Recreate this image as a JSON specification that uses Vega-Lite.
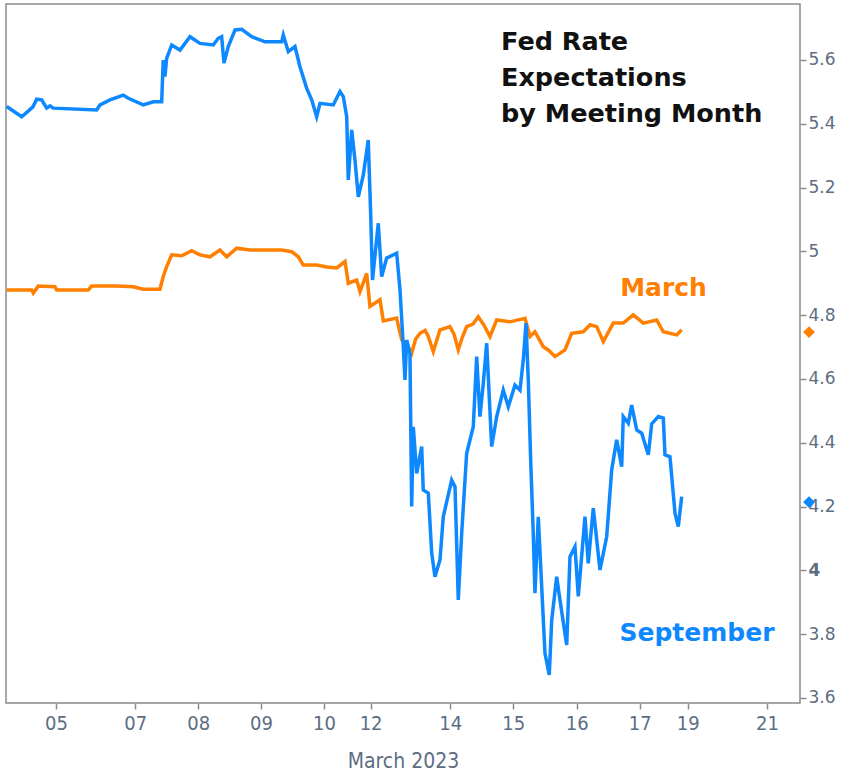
{
  "$schema": "https://vega.github.io/schema/vega-lite/v6.json",
  "width": 794,
  "height": 699,
  "autosize": {"type": "none"},
  "padding": {"left": 6, "top": 4, "right": 56, "bottom": 74},
  "background": "white",
  "config": {"view": {"stroke": "#8a8a8a", "strokeWidth": 1.5}, "font": "DejaVu Sans"},
  "encoding": {
    "x": {
      "field": "t", "type": "quantitative",
      "scale": {"domain": [-2.052, 10.551], "nice": false, "zero": false},
      "axis": {
        "values": [-1.259, 0, 1, 1.995, 2.995, 3.735, 5, 6, 7.006, 8.006, 8.768, 10.027],
        "labelExpr": "['05','07','08','09','10','12','14','15','16','17','19','21'][indexof([-1.259, 0, 1, 1.995, 2.995, 3.735, 5, 6, 7.006, 8.006, 8.768, 10.027], datum.value)]",
        "title": "March 2023", "grid": false, "domain": false,
        "tickColor": "#8a8a8a", "tickSize": 6, "tickWidth": 1.5,
        "labelFont": "Liberation Sans Narrow, DejaVu Sans Condensed", "labelFontSize": 20, "labelColor": "#5c6d82", "labelPadding": 4,
        "titleFont": "Liberation Sans Narrow, DejaVu Sans Condensed", "titleFontSize": 21, "titleFontWeight": "normal", "titleColor": "#5c6d82", "titlePadding": 17
      }
    },
    "y": {
      "field": "v", "type": "quantitative",
      "scale": {"domain": [3.584, 5.7755], "nice": false, "zero": false},
      "axis": {
        "orient": "right",
        "values": [3.6, 3.8, 4, 4.2, 4.4, 4.6, 4.8, 5, 5.2, 5.4, 5.6],
        "labelExpr": "format(datum.value, '.1~f')",
        "title": null, "grid": false, "domain": false,
        "tickColor": "#8a8a8a", "tickSize": 6, "tickWidth": 1.5,
        "labelFont": "DejaVu Sans", "labelFontSize": 17, "labelColor": "#5c6d82", "labelPadding": 2,
        "labelFontWeight": {"condition": {"test": "datum.value == 4", "value": "bold"}, "value": "normal"}
      }
    }
  },
  "layer": [
    {
      "data": {"values": [
        {"s":"March","t":-2.041,"v":4.879},{"s":"March","t":-1.644,"v":4.879},{"s":"March","t":-1.619,"v":4.869},{"s":"March","t":-1.540,"v":4.891},{"s":"March","t":-1.275,"v":4.889},{"s":"March","t":-1.248,"v":4.879},{"s":"March","t":-0.746,"v":4.879},{"s":"March","t":-0.692,"v":4.891},{"s":"March","t":-0.295,"v":4.891},{"s":"March","t":-0.032,"v":4.889},{"s":"March","t":0.127,"v":4.881},{"s":"March","t":0.392,"v":4.881},{"s":"March","t":0.444,"v":4.921},{"s":"March","t":0.498,"v":4.952},{"s":"March","t":0.578,"v":4.989},{"s":"March","t":0.737,"v":4.986},{"s":"March","t":0.895,"v":5.002},{"s":"March","t":1.027,"v":4.989},{"s":"March","t":1.186,"v":4.983},{"s":"March","t":1.344,"v":5.004},{"s":"March","t":1.451,"v":4.983},{"s":"March","t":1.610,"v":5.010},{"s":"March","t":1.821,"v":5.004},{"s":"March","t":2.324,"v":5.004},{"s":"March","t":2.483,"v":4.999},{"s":"March","t":2.587,"v":4.983},{"s":"March","t":2.667,"v":4.957},{"s":"March","t":2.879,"v":4.957},{"s":"March","t":3.038,"v":4.951},{"s":"March","t":3.197,"v":4.948},{"s":"March","t":3.329,"v":4.968},{"s":"March","t":3.381,"v":4.900},{"s":"March","t":3.514,"v":4.910},{"s":"March","t":3.567,"v":4.874},{"s":"March","t":3.673,"v":4.931},{"s":"March","t":3.725,"v":4.827},{"s":"March","t":3.884,"v":4.848},{"s":"March","t":3.937,"v":4.782},{"s":"March","t":4.149,"v":4.791},{"s":"March","t":4.229,"v":4.722},{"s":"March","t":4.308,"v":4.712},{"s":"March","t":4.387,"v":4.680},{"s":"March","t":4.450,"v":4.725},{"s":"March","t":4.519,"v":4.743},{"s":"March","t":4.600,"v":4.752},{"s":"March","t":4.651,"v":4.733},{"s":"March","t":4.730,"v":4.686},{"s":"March","t":4.837,"v":4.754},{"s":"March","t":4.995,"v":4.764},{"s":"March","t":5.060,"v":4.740},{"s":"March","t":5.127,"v":4.691},{"s":"March","t":5.190,"v":4.730},{"s":"March","t":5.260,"v":4.764},{"s":"March","t":5.360,"v":4.772},{"s":"March","t":5.444,"v":4.795},{"s":"March","t":5.530,"v":4.770},{"s":"March","t":5.630,"v":4.733},{"s":"March","t":5.737,"v":4.785},{"s":"March","t":5.948,"v":4.779},{"s":"March","t":6.186,"v":4.790},{"s":"March","t":6.265,"v":4.733},{"s":"March","t":6.344,"v":4.748},{"s":"March","t":6.476,"v":4.701},{"s":"March","t":6.560,"v":4.690},{"s":"March","t":6.662,"v":4.670},{"s":"March","t":6.821,"v":4.691},{"s":"March","t":6.927,"v":4.743},{"s":"March","t":7.111,"v":4.748},{"s":"March","t":7.220,"v":4.770},{"s":"March","t":7.324,"v":4.764},{"s":"March","t":7.429,"v":4.717},{"s":"March","t":7.587,"v":4.775},{"s":"March","t":7.746,"v":4.775},{"s":"March","t":7.905,"v":4.801},{"s":"March","t":8.063,"v":4.775},{"s":"March","t":8.276,"v":4.785},{"s":"March","t":8.381,"v":4.748},{"s":"March","t":8.594,"v":4.738},{"s":"March","t":8.673,"v":4.754},
        {"s":"September","t":-2.041,"v":5.454},{"s":"September","t":-1.803,"v":5.422},{"s":"September","t":-1.624,"v":5.453},{"s":"September","t":-1.565,"v":5.477},{"s":"September","t":-1.486,"v":5.475},{"s":"September","t":-1.406,"v":5.449},{"s":"September","t":-1.354,"v":5.456},{"s":"September","t":-1.302,"v":5.449},{"s":"September","t":-0.613,"v":5.443},{"s":"September","t":-0.560,"v":5.459},{"s":"September","t":-0.402,"v":5.475},{"s":"September","t":-0.190,"v":5.490},{"s":"September","t":-0.111,"v":5.480},{"s":"September","t":0.127,"v":5.459},{"s":"September","t":0.286,"v":5.469},{"s":"September","t":0.419,"v":5.469},{"s":"September","t":0.444,"v":5.600},{"s":"September","t":0.471,"v":5.548},{"s":"September","t":0.498,"v":5.605},{"s":"September","t":0.578,"v":5.647},{"s":"September","t":0.710,"v":5.631},{"s":"September","t":0.868,"v":5.673},{"s":"September","t":1.027,"v":5.652},{"s":"September","t":1.238,"v":5.647},{"s":"September","t":1.317,"v":5.668},{"s":"September","t":1.371,"v":5.673},{"s":"September","t":1.408,"v":5.590},{"s":"September","t":1.476,"v":5.642},{"s":"September","t":1.583,"v":5.694},{"s":"September","t":1.689,"v":5.696},{"s":"September","t":1.848,"v":5.673},{"s":"September","t":2.059,"v":5.657},{"s":"September","t":2.324,"v":5.657},{"s":"September","t":2.349,"v":5.678},{"s":"September","t":2.429,"v":5.626},{"s":"September","t":2.535,"v":5.642},{"s":"September","t":2.614,"v":5.579},{"s":"September","t":2.721,"v":5.511},{"s":"September","t":2.800,"v":5.475},{"s":"September","t":2.879,"v":5.422},{"s":"September","t":2.932,"v":5.464},{"s":"September","t":3.143,"v":5.459},{"s":"September","t":3.249,"v":5.501},{"s":"September","t":3.302,"v":5.485},{"s":"September","t":3.356,"v":5.422},{"s":"September","t":3.381,"v":5.224},{"s":"September","t":3.435,"v":5.381},{"s":"September","t":3.487,"v":5.286},{"s":"September","t":3.540,"v":5.171},{"s":"September","t":3.619,"v":5.239},{"s":"September","t":3.698,"v":5.349},{"s":"September","t":3.737,"v":5.114},{"s":"September","t":3.765,"v":4.910},{"s":"September","t":3.857,"v":5.088},{"s":"September","t":3.911,"v":4.921},{"s":"September","t":3.990,"v":4.979},{"s":"September","t":4.149,"v":4.994},{"s":"September","t":4.202,"v":4.879},{"s":"September","t":4.254,"v":4.701},{"s":"September","t":4.281,"v":4.597},{"s":"September","t":4.308,"v":4.722},{"s":"September","t":4.360,"v":4.680},{"s":"September","t":4.387,"v":4.200},{"s":"September","t":4.413,"v":4.450},{"s":"September","t":4.467,"v":4.304},{"s":"September","t":4.546,"v":4.388},{"s":"September","t":4.571,"v":4.252},{"s":"September","t":4.651,"v":4.242},{"s":"September","t":4.705,"v":4.054},{"s":"September","t":4.757,"v":3.980},{"s":"September","t":4.837,"v":4.033},{"s":"September","t":4.889,"v":4.168},{"s":"September","t":5.022,"v":4.283},{"s":"September","t":5.075,"v":4.262},{"s":"September","t":5.127,"v":3.907},{"s":"September","t":5.181,"v":4.116},{"s":"September","t":5.260,"v":4.367},{"s":"September","t":5.365,"v":4.450},{"s":"September","t":5.419,"v":4.670},{"s":"September","t":5.471,"v":4.482},{"s":"September","t":5.524,"v":4.586},{"s":"September","t":5.578,"v":4.712},{"s":"September","t":5.657,"v":4.388},{"s":"September","t":5.737,"v":4.482},{"s":"September","t":5.841,"v":4.565},{"s":"September","t":5.921,"v":4.513},{"s":"September","t":6.027,"v":4.581},{"s":"September","t":6.106,"v":4.565},{"s":"September","t":6.159,"v":4.660},{"s":"September","t":6.202,"v":4.775},{"s":"September","t":6.238,"v":4.597},{"s":"September","t":6.276,"v":4.346},{"s":"September","t":6.317,"v":4.116},{"s":"September","t":6.344,"v":3.928},{"s":"September","t":6.397,"v":4.168},{"s":"September","t":6.451,"v":3.949},{"s":"September","t":6.503,"v":3.740},{"s":"September","t":6.571,"v":3.672},{"s":"September","t":6.610,"v":3.844},{"s":"September","t":6.689,"v":3.980},{"s":"September","t":6.741,"v":3.907},{"s":"September","t":6.848,"v":3.766},{"s":"September","t":6.900,"v":4.043},{"s":"September","t":6.979,"v":4.074},{"s":"September","t":7.032,"v":3.918},{"s":"September","t":7.138,"v":4.168},{"s":"September","t":7.190,"v":4.022},{"s":"September","t":7.270,"v":4.195},{"s":"September","t":7.376,"v":4.001},{"s":"September","t":7.483,"v":4.106},{"s":"September","t":7.562,"v":4.315},{"s":"September","t":7.641,"v":4.409},{"s":"September","t":7.721,"v":4.325},{"s":"September","t":7.746,"v":4.482},{"s":"September","t":7.825,"v":4.461},{"s":"September","t":7.879,"v":4.518},{"s":"September","t":7.959,"v":4.440},{"s":"September","t":8.038,"v":4.430},{"s":"September","t":8.143,"v":4.362},{"s":"September","t":8.197,"v":4.459},{"s":"September","t":8.302,"v":4.482},{"s":"September","t":8.381,"v":4.477},{"s":"September","t":8.408,"v":4.362},{"s":"September","t":8.487,"v":4.356},{"s":"September","t":8.567,"v":4.179},{"s":"September","t":8.619,"v":4.137},{"s":"September","t":8.673,"v":4.231}
      ]},
      "mark": {"type": "line", "strokeWidth": 3.5, "interpolate": "linear", "strokeJoin": "miter"},
      "encoding": {
        "color": {"field": "s", "type": "nominal", "scale": {"domain": ["March", "September"], "range": ["#FF8000", "#0E88FF"]}, "legend": null},
        "detail": {"field": "s"}
      }
    },
    {
      "data": {"values": [
        {"s": "March", "t": 10.694, "v": 4.747},
        {"s": "September", "t": 10.694, "v": 4.214}
      ]},
      "mark": {"type": "point", "shape": "diamond", "filled": true, "size": 140, "opacity": 1},
      "encoding": {
        "color": {"field": "s", "type": "nominal", "legend": null}
      }
    },
    {
      "data": {"values": [
        {"s": "March", "t": 8.384, "v": 4.885, "label": "March"},
        {"s": "September", "t": 8.916, "v": 3.804, "label": "September"}
      ]},
      "mark": {"type": "text", "align": "center", "baseline": "middle", "font": "DejaVu Sans", "fontSize": 25, "fontWeight": "bold"},
      "encoding": {
        "text": {"field": "label"},
        "color": {"field": "s", "type": "nominal", "legend": null}
      }
    },
    {
      "data": {"values": [
        {"t": 5.805, "v": 5.656, "label": "Fed Rate"},
        {"t": 5.805, "v": 5.544, "label": "Expectations"},
        {"t": 5.805, "v": 5.431, "label": "by Meeting Month"}
      ]},
      "mark": {"type": "text", "align": "left", "baseline": "middle", "font": "DejaVu Sans", "fontSize": 25.5, "fontWeight": "bold", "color": "#111111"},
      "encoding": {
        "text": {"field": "label"}
      }
    }
  ]
}
